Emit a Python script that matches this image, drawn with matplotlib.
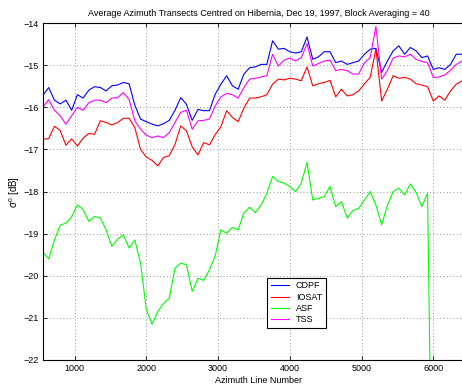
import numpy as np
import matplotlib
matplotlib.use("Agg")
import matplotlib.pyplot as plt

plt.rcParams['font.family'] = ['Liberation Sans', 'DejaVu Sans']
plt.rcParams['mathtext.fontset'] = 'custom'
plt.rcParams['mathtext.rm'] = 'Liberation Sans'
plt.rcParams['mathtext.it'] = 'Liberation Sans'

# azimuth line numbers (block averaged)
az_line = np.arange(560, 6481, 80)

cdpf = [-15.71, -15.53, -15.83, -15.92, -15.83, -16.07, -15.70, -15.78, -15.59, -15.51,
        -15.53, -15.61, -15.49, -15.47, -15.41, -15.44, -15.95, -16.28, -16.34, -16.40,
        -16.44, -16.39, -16.31, -16.07, -15.77, -15.93, -16.31, -16.05, -16.08, -16.08,
        -15.69, -15.45, -15.25, -15.49, -15.57, -15.21, -15.06, -15.04, -14.98, -14.98,
        -14.42, -14.62, -14.60, -14.68, -14.71, -14.68, -14.33, -14.86, -14.80, -14.68,
        -14.68, -14.94, -14.90, -14.98, -14.94, -14.90, -14.74, -14.62, -14.60, -15.17,
        -14.90, -14.66, -14.54, -14.74, -14.58, -14.66, -14.82, -14.78, -15.10, -15.06,
        -15.10, -14.98, -14.74, -14.74, -14.72]

iosat = [-16.76, -16.74, -16.45, -16.55, -16.90, -16.75, -16.92, -16.73, -16.62, -16.64,
         -16.32, -16.36, -16.42, -16.36, -16.26, -16.26, -16.48, -17.00, -17.18, -17.26,
         -17.39, -17.19, -17.15, -16.88, -16.44, -16.56, -16.94, -17.13, -16.84, -16.89,
         -16.65, -16.46, -16.08, -16.24, -16.34, -16.02, -15.78, -15.78, -15.75, -15.70,
         -15.45, -15.33, -15.35, -15.31, -15.33, -15.37, -15.04, -15.49, -15.44, -15.41,
         -15.36, -15.75, -15.57, -15.73, -15.70, -15.61, -15.44, -15.29, -14.62, -15.85,
         -15.57, -15.25, -15.31, -15.29, -15.33, -15.44, -15.47, -15.51, -15.85, -15.73,
         -15.83, -15.61, -15.45, -15.37, -15.35]

asf = [-19.45, -19.60, -19.15, -18.80, -18.75, -18.60, -18.32, -18.43, -18.71, -18.59,
       -18.63, -18.91, -19.30, -19.13, -19.03, -19.34, -19.15, -19.70, -20.80, -21.15,
       -20.85, -20.66, -20.53, -19.82, -19.70, -19.74, -20.37, -20.06, -20.11, -19.86,
       -19.53, -18.91, -18.99, -18.85, -18.91, -18.51, -18.37, -18.50, -18.32, -18.04,
       -17.64, -17.76, -17.80, -17.88, -18.00, -17.80, -17.31, -18.20, -18.16, -18.12,
       -17.88, -18.36, -18.24, -18.63, -18.45, -18.40, -18.20, -18.00, -18.32, -18.79,
       -18.33, -18.00, -17.92, -18.08, -17.82, -18.02, -18.36, -18.04, -28.0, np.nan,
       np.nan, np.nan, np.nan, np.nan, np.nan]

tss = [-15.99, -15.82, -16.07, -16.20, -16.40, -16.20, -16.00, -16.07, -15.89, -15.83,
       -15.83, -15.89, -15.78, -15.77, -15.65, -15.81, -16.32, -16.52, -16.66, -16.72,
       -16.68, -16.72, -16.60, -16.36, -16.12, -16.07, -16.52, -16.32, -16.31, -16.28,
       -15.97, -15.75, -15.67, -15.70, -15.78, -15.53, -15.33, -15.31, -15.28, -15.25,
       -14.74, -15.02, -14.88, -14.83, -14.90, -14.82, -14.49, -15.02, -14.96, -14.90,
       -14.88, -15.13, -15.10, -15.13, -15.21, -15.21, -14.94, -14.82, -14.08, -15.33,
       -15.13, -14.83, -14.78, -14.80, -14.74, -14.86, -14.91, -14.94, -15.29, -15.28,
       -15.23, -15.12, -14.98, -14.90, -14.88]

x_ticks = [1000, 2000, 3000, 4000, 5000, 6000]
y_ticks = [-22, -21, -20, -19, -18, -17, -16, -15, -14]

fig = plt.figure(figsize=(4.62, 3.85), dpi=100)
ax = fig.add_axes([0.093, 0.065, 0.935, 0.875])

ax.plot(az_line, cdpf, color='#0000ff', lw=0.8, label='CDPF')
ax.plot(az_line, iosat, color='#ff0000', lw=0.8, label='IOSAT')
ax.plot(az_line, asf, color='#00ff00', lw=0.8, label='ASF')
ax.plot(az_line, tss, color='#ff00ff', lw=0.8, label='TSS')

ax.set_xlim(560, 6580)
ax.set_ylim(-22, -14)
ax.set_xticks(x_ticks)
ax.set_yticks(y_ticks)
ax.tick_params(direction='in', top=True, right=True, length=3, width=0.6,
               labelsize=6.5, pad=3)
ax.grid(True, color='0.45', linestyle=(0, (1, 3)), linewidth=0.6)
for s in ax.spines.values():
    s.set_linewidth(0.8)

ax.set_title('Average Azimuth Transects Centred on Hibernia, Dec 19, 1997, Block Averaging = 40',
             fontsize=6.5, pad=5)
ax.set_xlabel('Azimuth Line Number', fontsize=6.5, labelpad=2)
ax.set_ylabel(r'$\sigma^o$ [dB]', fontsize=7, labelpad=1)

leg = ax.legend(loc='lower left', bbox_to_anchor=(0.508, 0.082), fontsize=6.5,
                frameon=True, fancybox=False, framealpha=1, edgecolor='k',
                handlelength=2.0, labelspacing=0.25, borderpad=0.4, handletextpad=0.8)
leg.get_frame().set_linewidth(0.8)

fig.savefig('out.png', dpi=100)
